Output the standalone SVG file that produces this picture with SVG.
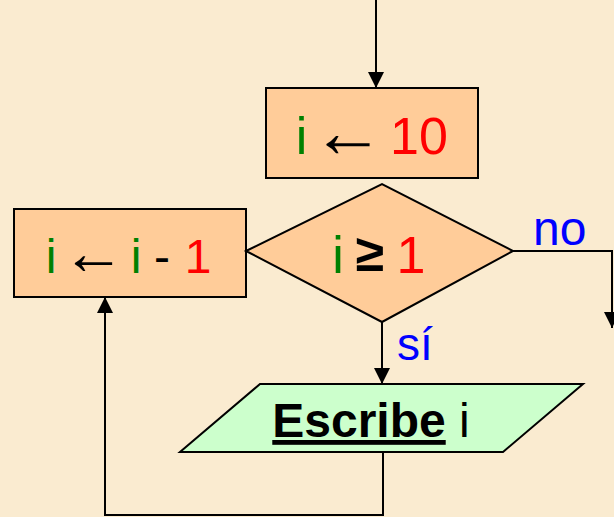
<svg xmlns="http://www.w3.org/2000/svg" width="614" height="517" viewBox="0 0 614 517">
  <style>
    .box { fill: #FFCC99; stroke: #000; stroke-width: 2; }
    .io { fill: #CCFFCC; stroke: #000; stroke-width: 2; }
    .lbl { font-family: "Liberation Sans", Arial, sans-serif; font-size: 52px; text-anchor: middle; }
    .sm { font-size: 48px; }
    .arw { font-family: "Liberation Sans", Arial, sans-serif; fill: #000; text-anchor: middle; }
    .var { fill: #008000; }
    .num { fill: #FF0000; }
    .op { fill: #000; }
    .cond { font-family: "Liberation Sans", Arial, sans-serif; fill: #0000FF; }
    .wire { fill: none; stroke: #000; stroke-width: 2; }
  </style>
  <defs>
    <marker id="arrow" viewBox="0 0 16 16" refX="16" refY="8" markerWidth="16" markerHeight="16" markerUnits="userSpaceOnUse" orient="auto">
      <path d="M0,0 L16,8 L0,16 z" fill="#000"/>
    </marker>
  </defs>

  <rect width="614" height="517" fill="#FAEBD0"/>

  <g id="connectors">
    <path class="wire" d="M376,0 V88" marker-end="url(#arrow)"/>
    <path class="wire" d="M513,251 H612 V328" marker-end="url(#arrow)"/>
    <path class="wire" d="M382,322 V384" marker-end="url(#arrow)"/>
    <path class="wire" d="M383,452 V515 H105 V297" marker-end="url(#arrow)"/>
    <text class="cond" x="533" y="245" font-size="48">no</text>
    <text class="cond" x="397" y="360" font-size="46">sí</text>
  </g>

  <g id="init">
    <rect class="box" x="266" y="88" width="212" height="90"/>
    <text class="lbl var" x="301.5" y="154">i</text>
    <text class="arw" x="348" y="157" font-size="73">←</text>
    <text class="lbl num" x="419" y="154">10</text>
  </g>

  <g id="decrement">
    <rect class="box" x="14" y="209" width="232" height="88"/>
    <text class="lbl sm var" x="51" y="273">i</text>
    <text class="arw" x="93.5" y="274" font-size="63">←</text>
    <text class="lbl sm var" x="136" y="273">i</text>
    <text class="lbl sm op" x="162" y="273">-</text>
    <text class="lbl sm num" x="198" y="273">1</text>
  </g>

  <g id="test">
    <polygon class="box" points="246,251 382,184 513,251 382,322"/>
    <text class="lbl var" x="338" y="273">i</text>
    <text class="lbl op" x="370" y="271" font-weight="bold">≥</text>
    <text class="lbl num" x="411" y="273">1</text>
  </g>

  <g id="output">
    <polygon class="io" points="260,384 583,384 503,452 180,452"/>
    <text class="lbl sm" x="371" y="437"><tspan font-weight="bold" text-decoration="underline">Escribe</tspan><tspan> i</tspan></text>
  </g>
</svg>
